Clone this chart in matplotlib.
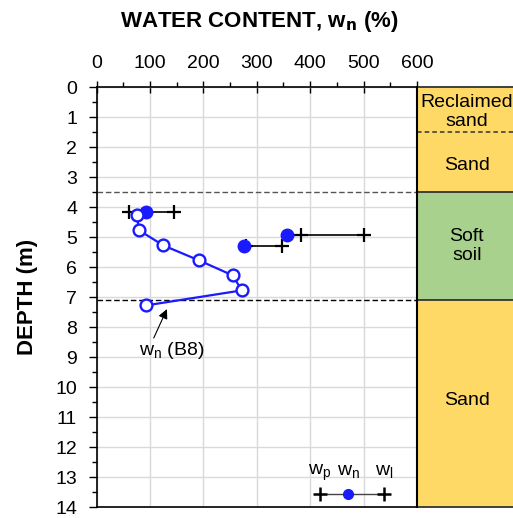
import matplotlib
matplotlib.use("Agg")
import matplotlib.pyplot as plt
from matplotlib.patches import Rectangle
from matplotlib.ticker import MultipleLocator

plt.rcParams['font.family'] = ['Liberation Sans', 'DejaVu Sans']

# natural water content profile (B8)
depth_b8 = [4.27, 4.78, 5.28, 5.78, 6.28, 6.78, 7.28]
wn_b8 = [75, 80, 125, 192, 255, 272, 93]

# samples with Atterberg limits
depth_lim = [4.18, 4.93, 5.3]
wn_lim = [93, 357, 276]
wp_lim = [60, 382, 280]
wl_lim = [145, 500, 347]

# soil layers: (top, bottom, label, colour)
layer_tops = [0.0, 1.5, 3.5, 7.1]
layer_bots = [1.5, 3.5, 7.1, 14.0]
layer_names = ["Reclaimed\nsand", "Sand", "Soft\nsoil", "Sand"]
layer_cols = ["#FFD966", "#FFD966", "#A9D18E", "#FFD966"]
layer_label_y = [0.82, 2.6, 5.3, 10.45]
boundary_styles = ['dashed', 'solid', 'solid']

W, H = 513, 518
fig = plt.figure(figsize=(W / 100, H / 100), dpi=100)
x0, x1, y0, y1 = 96.5, 417, 87, 507
ax = fig.add_axes([x0 / W, 1 - y1 / H, (x1 - x0) / W, (y1 - y0) / H])

ax.set_xlim(0, 600)
ax.set_ylim(14, 0)
ax.xaxis.tick_top()
ax.xaxis.set_major_locator(MultipleLocator(100))
ax.xaxis.set_minor_locator(MultipleLocator(50))
ax.yaxis.set_major_locator(MultipleLocator(1))
ax.yaxis.set_minor_locator(MultipleLocator(0.5))
ax.tick_params(axis='both', which='major', labelsize=14, length=6, width=1, direction='out')
ax.tick_params(axis='y', which='major', pad=8)
ax.tick_params(axis='x', which='major', direction='inout', length=8, pad=7)
ax.tick_params(axis='both', which='minor', length=3.5, width=1, direction='out')
ax.grid(True, which='major', color='#d9d9d9', linewidth=1)
ax.set_axisbelow(True)
for s in ['left', 'top', 'bottom']:
    ax.spines[s].set_linewidth(1.2)
ax.spines['right'].set_visible(False)

# layer boundaries in plot
ax.axhline(3.5, color='#555555', linestyle=(0, (4, 2)), linewidth=1)
ax.axhline(7.1, color='black', linestyle=(0, (4, 2)), linewidth=1)

# soil column
col_w = 200
for t, b, name, c, ly in zip(layer_tops, layer_bots, layer_names, layer_cols, layer_label_y):
    ax.add_patch(Rectangle((600, t), col_w, b - t, facecolor=c, edgecolor='none',
                           clip_on=False, zorder=3))
    ax.text(693, ly, name, ha='center', va='center', fontsize=14, linespacing=1.15,
            clip_on=False, zorder=4)
ax.add_patch(Rectangle((600, 0), col_w, 14, facecolor='none', edgecolor='#333333',
                       linewidth=1.3, clip_on=False, zorder=5))
for yb, st in zip(layer_bots[:-1], boundary_styles):
    ls = (0, (3, 2)) if st == 'dashed' else '-'
    ax.plot([600, 600 + col_w], [yb, yb], color='#333333', linestyle=ls,
            linewidth=1.1 if st == 'dashed' else 1.3, clip_on=False, zorder=4)
ax.plot([600, 600], [0, 14], color='black', linewidth=1.5, clip_on=False, zorder=6)

# Atterberg limits
for d, wp, wn, wl in zip(depth_lim, wp_lim, wn_lim, wl_lim):
    lo, hi = min(wp, wn), max(wl, wn)
    ax.plot([lo, hi], [d, d], color='black', linewidth=1.2, zorder=5)
    ax.plot([wp, wl], [d, d], linestyle='none', marker='+', color='black',
            markersize=10, markeredgewidth=1.6, zorder=6)
    ax.plot([wn], [d], linestyle='none', marker='o', color='#1a1aff',
            markersize=9, zorder=7)

# B8 profile
ax.plot(wn_b8, depth_b8, color='#1a1aff', linewidth=1.6, marker='o', markersize=8.5,
        markerfacecolor='white', markeredgecolor='#1a1aff', markeredgewidth=1.7, zorder=8)

ax.annotate('', xy=(134, 7.32), xytext=(105, 8.45),
            arrowprops=dict(arrowstyle='-|>', color='black', lw=0.8, mutation_scale=14))
ax.text(140, 8.78, r'w$_\mathregular{n}$ (B8)', ha='center', va='center', fontsize=14)

# legend
leg_d = 13.55
ax.plot([418, 538], [leg_d, leg_d], color='#444444', linewidth=1, zorder=5)
ax.plot([418, 538], [leg_d, leg_d], linestyle='none', marker='+', color='black',
        markersize=10, markeredgewidth=1.8, zorder=6)
ax.plot([471], [leg_d], linestyle='none', marker='o', color='#1a1aff', markersize=7, zorder=7)
for wx, lab in zip([418, 471, 538], [r'w$_\mathregular{p}$', r'w$_\mathregular{n}$', r'w$_\mathregular{l}$']):
    ax.text(wx, 12.85, lab, ha='center', va='center', fontsize=14)

fig.text(259 / W, 1 - 22 / H, r'WATER CONTENT, w$_\mathbf{n}$ (%)', ha='center', va='center',
         fontsize=16, fontweight='bold')
fig.text(28 / W, 1 - 297 / H, 'DEPTH (m)', ha='center', va='center', rotation=90,
         fontsize=16, fontweight='bold')

fig.savefig('out.png', dpi=100)
